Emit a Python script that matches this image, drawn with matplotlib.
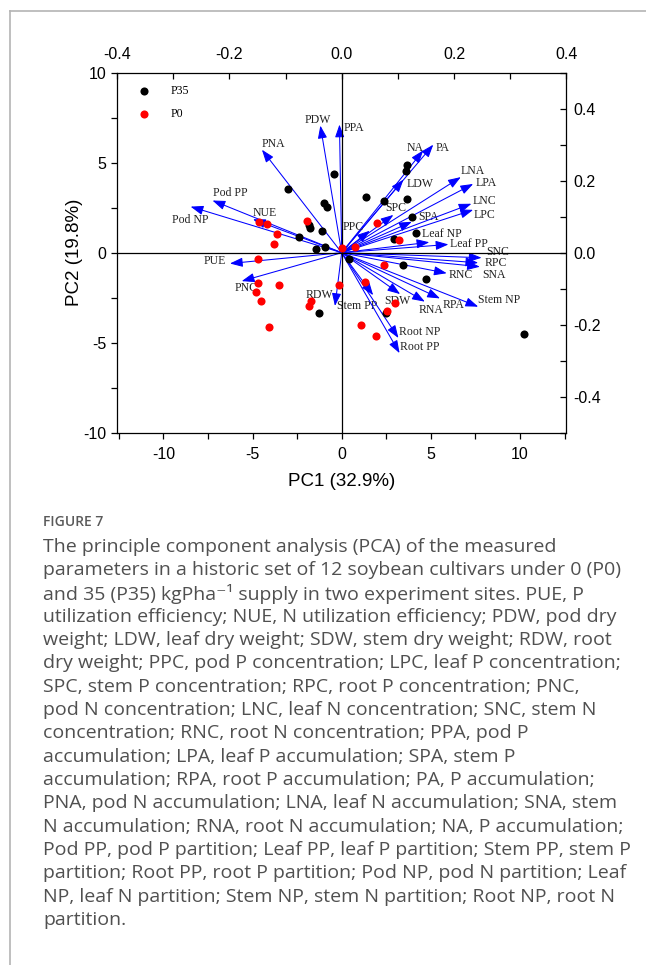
import matplotlib
matplotlib.use('Agg')
import matplotlib.pyplot as plt
from matplotlib.lines import Line2D
from matplotlib.ticker import MultipleLocator

plt.rcParams['axes.unicode_minus'] = False
plt.rcParams['font.family'] = 'Liberation Sans'

######################################
# PCA scores

p35_pc1 = [-0.45, -3.02, -0.97, -0.82, -1.81, -1.77, -1.12, -2.39, -1.46, -0.94, -1.25, 3.66,
           3.62, 1.36, 2.39, 3.67, 3.92, 4.19, 2.93, 0.43, 3.43, 4.72, 2.48, 10.23]
p35_pc2 = [4.37, 3.52, 2.74, 2.52, 1.54, 1.36, 1.22, 0.87, 0.21, 0.30, -3.33, 4.86,
           4.54, 3.08, 2.86, 2.97, 2.00, 1.09, 0.78, -0.37, -0.67, -1.44, -3.37, -4.50]

p0_pc1 = [-1.94, -4.62, -4.19, -3.62, -3.77, -4.72, 0.03, -4.69, -3.53, -4.80, -4.53, -4.05,
          -1.73, -1.85, -0.17, 1.96, 3.22, 0.74, 2.39, 1.30, 2.52, 2.98, 1.06, 1.90]
p0_pc2 = [1.74, 1.69, 1.58, 1.04, 0.47, -0.35, 0.28, -1.67, -1.81, -2.17, -2.67, -4.13,
          -2.67, -2.96, -1.81, 1.65, 0.71, 0.33, -0.67, -1.65, -3.22, -2.78, -4.00, -4.65]

# loadings (top / right axes)
var_names = ['PDW', 'PPA', 'PNA', 'Pod PP', 'Pod NP', 'NUE', 'PUE', 'PNC', 'RDW', 'Stem PP',
             'SDW', 'RNA', 'RPA', 'Stem NP', 'Root NP', 'Root PP', 'RNC', 'SNA', 'RPC', 'SNC',
             'Leaf PP', 'Leaf NP', 'SPA', 'LPC', 'LNC', 'LPA', 'LNA', 'LDW', 'SPC', 'NA', 'PA', 'PPC']
load_pc1 = [-0.038, -0.004, -0.142, -0.230, -0.269, -0.158, -0.199, -0.178, -0.012, 0.056,
            0.104, 0.148, 0.175, 0.243, 0.101, 0.103, 0.187, 0.246, 0.243, 0.249,
            0.190, 0.156, 0.125, 0.234, 0.231, 0.234, 0.212, 0.110, 0.092, 0.145, 0.163, 0.050]
load_pc2 = [0.353, 0.356, 0.286, 0.145, 0.128, 0.093, -0.030, -0.079, -0.148, -0.118,
            -0.115, -0.136, -0.127, -0.150, -0.237, -0.279, -0.057, -0.039, -0.028, -0.014,
            0.023, 0.029, 0.086, 0.119, 0.136, 0.191, 0.210, 0.203, 0.105, 0.284, 0.300, 0.061]

# where each label sits relative to its arrow tip (points)
label_offsets = {
    'PDW': (-2.2, 4.3), 'PPA': (10.4, -2.7), 'PNA': (8.6, 4.3), 'Pod PP': (13, 5.3),
    'Pod NP': (0, -9.4), 'NUE': (8.6, 4.7), 'PUE': (-11.2, 1.8), 'PNC': (2.9, -4.7),
    'RDW': (-11.5, 7.7), 'Stem PP': (-11.5, -7.9), 'SDW': (-2.2, -4.7), 'RNA': (4.5, -6),
    'RPA': (9.6, -5), 'Stem NP': (14.8, 4.7), 'Root NP': (15.1, 4.3), 'Root PP': (14.4, 4.7),
    'RNC': (9.8, -1), 'SNA': (10, -5.8), 'RPC': (13, 0), 'SNC': (11.5, 4.3),
    'Leaf PP': (15.1, 0.4), 'Leaf NP': (9.1, 5.8), 'SPA': (12.2, 3.2), 'LPC': (7.9, -3.8),
    'LNC': (9.4, 2.2), 'LPA': (9.4, 0.5), 'LNA': (8.4, 4.3), 'LDW': (12, -3.2),
    'SPC': (1.8, 4.8), 'NA': (-5.8, 1.9), 'PA': (6.5, -2.2), 'PPC': (-12.2, 2.9),
}

caption_title = 'FIGURE 7'
caption_lines = [
    'The principle component analysis (PCA) of the measured',
    'parameters in a historic set of 12 soybean cultivars under 0 (P0)',
    'and 35 (P35) kgPha\u207b\u00b9 supply in two experiment sites. PUE, P',
    'utilization efficiency; NUE, N utilization efficiency; PDW, pod dry',
    'weight; LDW, leaf dry weight; SDW, stem dry weight; RDW, root',
    'dry weight; PPC, pod P concentration; LPC, leaf P concentration;',
    'SPC, stem P concentration; RPC, root P concentration; PNC,',
    'pod N concentration; LNC, leaf N concentration; SNC, stem N',
    'concentration; RNC, root N concentration; PPA, pod P',
    'accumulation; LPA, leaf P accumulation; SPA, stem P',
    'accumulation; RPA, root P accumulation; PA, P accumulation;',
    'PNA, pod N accumulation; LNA, leaf N accumulation; SNA, stem',
    'N accumulation; RNA, root N accumulation; NA, P accumulation;',
    'Pod PP, pod P partition; Leaf PP, leaf P partition; Stem PP, stem P',
    'partition; Root PP, root P partition; Pod NP, pod N partition; Leaf',
    'NP, leaf N partition; Stem NP, stem N partition; Root NP, root N',
    'partition.',
]

######################################

W, H = 646, 965
fig = plt.figure(figsize=(W / 100, H / 100), dpi=100)
rect = [117 / W, 1 - 432.7 / H, 449.4 / W, 360 / H]

# loadings axes underneath (top and right scales)
axl = fig.add_axes(rect)
axl.set_xlim(-0.4, 0.4)
axl.set_ylim(-0.5, 0.5)
axl.xaxis.tick_top()
axl.yaxis.tick_right()
axl.xaxis.set_major_locator(MultipleLocator(0.2))
axl.xaxis.set_minor_locator(MultipleLocator(0.1))
axl.yaxis.set_major_locator(MultipleLocator(0.2))
axl.yaxis.set_minor_locator(MultipleLocator(0.1))
axl.xaxis.set_major_formatter(lambda v, p: '%.1f' % v)
axl.yaxis.set_major_formatter(lambda v, p: '%.1f' % v)
axl.tick_params(axis='x', which='both', direction='in', length=4, width=0.9, labelsize=11.5, pad=8)
axl.tick_params(axis='y', which='both', direction='in', length=4, width=0.9, labelsize=11.5, pad=5)
for s in axl.spines.values():
    s.set_visible(False)

for name, lx, ly in zip(var_names, load_pc1, load_pc2):
    axl.annotate('', xy=(lx, ly), xytext=(0, 0),
                 arrowprops=dict(arrowstyle='-|>,head_length=0.55,head_width=0.2',
                                 mutation_scale=14, color='#0000ff', lw=0.75,
                                 shrinkA=0, shrinkB=0))
    dx, dy = label_offsets[name]
    axl.annotate(name, xy=(lx, ly), xytext=(dx, dy), textcoords='offset points',
                 ha='center', va='center', fontsize=8.5, color='#222222',
                 family='Liberation Serif', annotation_clip=False)

# score axes on top
ax = fig.add_axes(rect)
ax.patch.set_alpha(0)
ax.axhline(0, color='black', lw=0.9, zorder=1)
ax.axvline(0, color='black', lw=0.9, zorder=1)
ax.scatter(p35_pc1, p35_pc2, s=34, c='black', linewidths=0, label='P35', zorder=3)
ax.scatter(p0_pc1, p0_pc2, s=34, c='red', linewidths=0, label='P0', zorder=3)
ax.set_xlim(-12.6, 12.6)
ax.set_ylim(-10, 10)
ax.xaxis.set_major_locator(MultipleLocator(5))
ax.xaxis.set_minor_locator(MultipleLocator(2.5))
ax.yaxis.set_major_locator(MultipleLocator(5))
ax.yaxis.set_minor_locator(MultipleLocator(2.5))
ax.tick_params(which='both', direction='out', length=4, width=0.9, labelsize=11.5)
ax.tick_params(axis='x', pad=6)
ax.tick_params(axis='y', pad=3.5)
for s in ax.spines.values():
    s.set_linewidth(0.9)
ax.set_xlabel('PC1 (32.9%)', fontsize=13.5, labelpad=8)
ax.set_ylabel('PC2 (19.8%)', fontsize=13.5, labelpad=0)

leg = ax.legend(loc='upper left', bbox_to_anchor=(0.011, 0.996), frameon=False,
                prop={'family': 'Liberation Serif', 'size': 8.5},
                handletextpad=1.2, labelspacing=0.95, scatterpoints=1)

# caption
fig.text(43 / W, 1 - 522 / H, caption_title, fontsize=10, color='#5a5a5a',
         family='Open Sans', weight='semibold', va='center')
for i, line in enumerate(caption_lines):
    fig.text(43 / W, 1 - (547 + 23.3 * i) / H, line, fontsize=14, color='#505050',
             family=['Open Sans', 'DejaVu Sans'], va='center')

# page frame
fig.add_artist(Line2D([10 / W, 1], [1 - 11 / H, 1 - 11 / H], transform=fig.transFigure,
                      color='#b4b4b4', lw=1.2))
fig.add_artist(Line2D([10 / W, 10 / W], [0, 1 - 11 / H], transform=fig.transFigure,
                      color='#b4b4b4', lw=1.2))

fig.savefig('out.png', dpi=100)
